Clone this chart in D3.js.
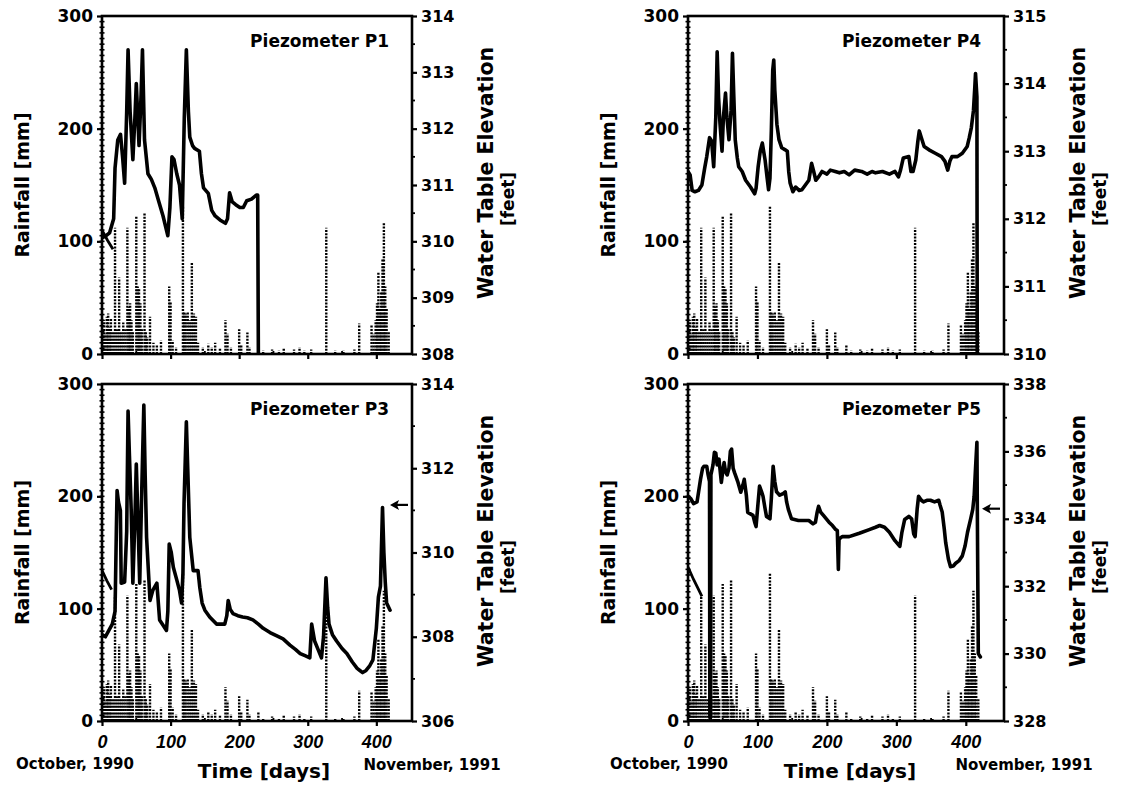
<!DOCTYPE html>
<html><head><meta charset="utf-8">
<script src="https://cdn.jsdelivr.net/npm/d3@7"></script>
<style>body{margin:0;background:#fff}svg{display:block}</style>
</head><body>
<svg id="c" width="1126" height="792"></svg>
<script>
// ---------------- DATA ----------------
const panelNames = ["Piezometer P1", "Piezometer P3", "Piezometer P4", "Piezometer P5"];
const xTicks = [0, 100, 200, 300, 400];
const rainTicks = [0, 100, 200, 300];
const startLabel = "October, 1990";
const endLabel = "November, 1991";
const xTitle = "Time [days]";
const yLeftTitle = "Rainfall [mm]";
const yRightTitle = "Water Table Elevation";
const yRightUnit = "[feet]";

// daily rainfall [day, mm] (same gauge for all piezometers)
const rainfall = [
 [1,20],[3,30],[5,18],[7,33],[9,36],[11,24],[13,32],[16,20],
 [19,112],[22,22],[25,68],[28,20],[31,28],[34,22],
 [37,112],[39,42],[41,45],[43,30],[45,20],
 [50,122],[52,60],[54,58],[56,45],[58,22],
 [62,125],[64,20],[66,15],[70,33],[75,10],[80,8],[86,12],
 [98,60],[100,46],[103,12],[108,6],
 [118,131],[120,38],[122,36],[125,38],[128,30],[131,81],[134,36],[137,33],[140,10],
 [147,6],[155,9],[160,6],[165,10],[172,5],
 [180,30],[183,18],[188,6],[200,22],[203,8],[212,19],[215,6],[228,8],[235,3],
 [248,4],[258,3],[265,5],[280,4],[288,6],[295,3],[305,4],
 [327,112],[340,3],[352,3],[368,4],[375,27],
 [393,26],[396,18],[399,30],[401,45],[403,73],[405,40],[407,55],[409,85],[411,116],[413,60],[415,40],[418,20]
];

// water table elevation [day, feet]
const wtP1 = [
 [0,310.06],[6,310.1],[11,310.15],[17,310.4],[19,311.3],[23,311.8],[27,311.9],[30,311.5],[33,311.03],
 [36,312.3],[38,313.4],[41,312.3],[45,311.45],[48,312.2],[50,312.8],[54,311.7],[57,312.6],[59,313.4],
 [62,311.8],[67,311.2],[72,311.1],[77,310.95],[83,310.7],[89,310.45],[96,310.1],[99,310.6],[102,311.5],
 [105,311.45],[109,311.2],[113,311.0],[117,310.4],[120,312.2],[123,313.4],[126,312.3],[128,311.85],
 [132,311.7],[135,311.65],[142,311.6],[145,311.2],[148,310.95],[155,310.85],[160,310.55],[165,310.45],
 [172,310.38],[180,310.32],[183,310.4],[186,310.86],[190,310.7],[195,310.65],[201,310.6],[206,310.6],
 [211,310.72],[218,310.75],[225,310.82],[227,310.82],[228,308.0]
];
const wtP3 = [
 [0,308.05],[5,308.0],[10,308.15],[15,308.3],[19,308.6],[21,310.6],[22,311.47],[24,311.2],[26.8,311.0],
 [28,309.27],[33,309.3],[36,310.5],[38,313.36],[40,312.3],[42.6,311.0],[45,309.27],[48,310.8],[50,312.1],
 [52,311.0],[55,309.27],[58,311.5],[61,313.5],[63,311.8],[65,310.36],[70,308.86],[74,309.1],[80,309.27],
 [84,308.4],[90,308.25],[94,308.15],[96,308.6],[98,310.2],[101,310.0],[104,309.65],[109,309.35],[113,309.1],
 [116,308.8],[118,309.5],[119.6,311.16],[123,313.1],[125,312.0],[128,310.36],[133,309.57],[140,309.57],
 [142.6,309.17],[146,308.8],[150,308.63],[157,308.47],[167,308.3],[179,308.3],[182,308.5],[184,308.86],
 [187,308.65],[191,308.55],[198,308.5],[205,308.47],[212,308.45],[220,308.4],[228,308.3],[235,308.2],
 [245,308.1],[255,308.02],[264,307.95],[274,307.8],[282,307.7],[289,307.6],[296,307.55],[303,307.5],
 [305.7,308.3],[310,307.9],[315,307.7],[320,307.5],[323,308.0],[326.6,309.4],[329,308.7],[331,308.3],
 [336,308.05],[342,307.9],[350,307.72],[357,307.6],[365,307.4],[372,307.25],[376,307.2],[380,307.15],
 [385,307.2],[390,307.3],[395,307.45],[400,308.2],[403,308.94],[406,309.2],[409,311.07],[411,310.0],
 [413,309.3],[415,308.8],[420,308.63]
];
const wtP4 = [
 [0,312.7],[3,312.65],[6,312.42],[10,312.4],[15,312.42],[20,312.5],[24,312.75],[27,312.92],[31,313.2],
 [34,313.15],[37,312.77],[40,313.5],[42,314.47],[44,313.8],[46,313.42],[49,313.0],[51,313.5],[54,313.86],
 [56,313.5],[59,313.17],[62,313.6],[64,314.45],[66,313.8],[68,313.17],[71,312.9],[73,312.77],[78,312.7],
 [83,312.57],[90,312.47],[96,312.37],[98,312.45],[101,312.77],[104,313.0],[107,313.12],[111,312.87],
 [114,312.6],[116,312.43],[118,312.6],[120,313.3],[122,314.2],[123.5,314.35],[125,313.9],[128,313.4],
 [131,313.17],[135,313.05],[140,313.02],[143,313.0],[145,312.7],[147,312.53],[151,312.4],[155,312.47],
 [160,312.42],[164,312.43],[169,312.5],[174,312.57],[178,312.82],[181,312.7],[184,312.57],[188,312.62],
 [193,312.7],[200,312.66],[205,312.72],[212,312.7],[218,312.68],[225,312.7],[232,312.65],[240,312.72],
 [250,312.7],[258,312.66],[265,312.7],[270,312.68],[280,312.7],[290,312.66],[298,312.7],[303,312.62],
 [306,312.72],[310,312.9],[318,312.92],[321,312.7],[324,312.7],[328,312.87],[331,313.15],[333,313.3],
 [336,313.2],[340,313.07],[347,313.02],[356,312.97],[365,312.92],[370,312.85],[374,312.72],[377,312.85],
 [380,312.92],[388,312.92],[395,312.97],[402,313.07],[405,313.2],[408,313.35],[411,313.6],[413,313.95],
 [414,314.15],[416,313.8],[416.5,310.0]
];
const wtP5 = [
 [0,334.67],[4,334.6],[8,334.45],[13,334.5],[16,334.9],[18,335.17],[21,335.5],[23,335.56],[27,335.56],
 [29,335.3],[31,335.1],[31.5,328.1],[32.5,328.1],[33,335.3],[36,335.6],[38,335.97],[40,335.95],[42,335.6],
 [44.6,335.77],[48,335.08],[50,335.4],[52,335.67],[54,335.4],[56.4,335.3],[59,335.5],[61,336.0],
 [62.8,336.07],[65,335.5],[67,335.37],[72,335.08],[76,334.79],[79,335.0],[81,335.17],[84,334.7],
 [86,334.19],[93.6,334.1],[96,333.9],[98,333.77],[101,334.5],[103,334.97],[106,334.8],[108,334.67],
 [111,334.3],[113,334.07],[118,334.0],[120,334.6],[122.6,335.56],[125,335.1],[127.5,334.8],[132,334.7],
 [137,334.75],[140,334.8],[142,334.5],[144.5,334.28],[149,334.0],[159,333.95],[174,333.95],[180,333.85],
 [183.5,333.9],[186,334.2],[188,334.37],[191,334.2],[195,334.1],[203,333.9],[208,333.8],[212.7,333.68],
 [215,333.65],[216.5,332.5],[217.5,333.4],[222,333.47],[232,333.47],[246.7,333.57],[261,333.68],
 [270,333.75],[276,333.8],[283,333.75],[290,333.6],[298,333.35],[305,333.18],[308,333.6],[312,333.98],
 [318,334.07],[322,334.0],[325,333.55],[327,333.47],[330,334.3],[332,334.67],[336,334.55],[339,334.5],
 [344,334.55],[349,334.55],[355,334.5],[361,334.55],[363,334.4],[366,334.2],[369,333.7],[371,333.3],
 [375,332.8],[378,332.58],[382,332.6],[385.4,332.68],[390,332.75],[395,332.9],[399,333.2],[402.5,333.6],
 [407,334.0],[410,334.28],[412,334.67],[414,335.5],[416,336.27],[417,333.0],[418,330.0],[421,329.9]
];

// short initial trace at the start of record [day, mm]
const earlyP1 = [[0,110],[8,101],[16,93]];
const earlyP3 = [[0,134],[7,125],[14,117]];
const earlyP4 = [];
const earlyP5 = [[0,137],[8,126],[16,116],[20,111]];

// right-axis ranges and ticks (feet)
const elevDomains = [[308,314],[306,314],[310,315],[328,338]];
const elevTicks = [
 [308,309,310,311,312,313,314],
 [306,308,310,312,314],
 [310,311,312,313,314,315],
 [328,330,332,334,336,338]
];
const elevMinor = [
 [308.5,309.5,310.5,311.5,312.5,313.5],
 [307,309,311,313],
 [310.5,311.5,312.5,313.5,314.5],
 [329,331,333,335,337]
];
// arrow markers (elevation, feet) in P3 and P5
const arrowElev = [null, 311.13, null, 334.3];

// ---------------- LAYOUT ----------------
const cols = [{x0:102, x1:412, dMax:452, oct:75}, {x0:688, x1:1004, dMax:455, oct:669}];
const rows = [{y0:16, y1:354}, {y0:384, y1:721}];
const panelPos = [[0,0],[0,1],[1,0],[1,1]]; // [col,row]
const wtSeries = [wtP1, wtP3, wtP4, wtP5];
const earlySeries = [earlyP1, earlyP3, earlyP4, earlyP5];

const FONT = "'DejaVu Sans', sans-serif";
const svg = d3.select("#c");

panelNames.forEach((name, i) => {
  const c = cols[panelPos[i][0]], r = rows[panelPos[i][1]];
  const bottomRow = panelPos[i][1] === 1;
  const x = d3.scaleLinear([0, c.dMax], [c.x0, c.x1]);
  const yL = d3.scaleLinear([0, 300], [r.y1, r.y0]);
  const yR = d3.scaleLinear(elevDomains[i], [r.y1, r.y0]);
  const g = svg.append("g");

  const clipId = "clip" + i;
  svg.append("clipPath").attr("id", clipId).append("rect")
    .attr("x", c.x0).attr("y", r.y0 - 2).attr("width", c.x1 - c.x0).attr("height", r.y1 - r.y0 + 3);
  const plot = g.append("g").attr("clip-path", `url(#${clipId})`);

  // rainfall impulses (dotted)
  plot.selectAll("line.rain").data(rainfall).join("line")
    .attr("x1", d => x(d[0])).attr("x2", d => x(d[0]))
    .attr("y1", yL(0)).attr("y2", d => yL(d[1]))
    .attr("stroke", "#000").attr("stroke-width", 2.4)
    .attr("stroke-dasharray", "2,1.3");

  // early trace
  if (earlySeries[i].length) {
    plot.append("path").datum(earlySeries[i])
      .attr("d", d3.line().x(d => x(d[0])).y(d => yL(d[1])))
      .attr("fill", "none").attr("stroke", "#000").attr("stroke-width", 2.8);
  }

  // water table line
  plot.append("path").datum(wtSeries[i])
    .attr("d", d3.line().x(d => x(d[0])).y(d => yR(d[1])))
    .attr("fill", "none").attr("stroke", "#000").attr("stroke-width", 3.6)
    .attr("stroke-linejoin", "round").attr("stroke-linecap", "round");

  // frame
  g.append("rect").attr("x", c.x0).attr("y", r.y0)
    .attr("width", c.x1 - c.x0).attr("height", r.y1 - r.y0)
    .attr("fill", "none").attr("stroke", "#000").attr("stroke-width", 2.6);

  // left axis
  const la = g.append("g").attr("transform", `translate(${c.x0},0)`)
    .call(d3.axisLeft(yL).tickValues(rainTicks).tickSize(5).tickPadding(4).tickFormat(d3.format("d")));
  la.select(".domain").remove();
  la.selectAll(".tick line").attr("stroke-width", 2.2);
  la.selectAll(".tick text").attr("font-family", FONT).attr("font-weight", "bold")
    .attr("font-size", 17).attr("fill", "#000");
  // minor left ticks
  g.selectAll("line.lmin").data(d3.range(5, 300, 5)).join("line")
    .attr("x1", c.x0 - 2.5).attr("x2", c.x0 + 2.5)
    .attr("y1", d => yL(d)).attr("y2", d => yL(d))
    .attr("stroke", "#000").attr("stroke-width", 1.6);

  // right axis
  const ra = g.append("g").attr("transform", `translate(${c.x1},0)`)
    .call(d3.axisRight(yR).tickValues(elevTicks[i]).tickSize(5).tickPadding(4).tickFormat(d3.format("d")));
  ra.select(".domain").remove();
  ra.selectAll(".tick line").attr("stroke-width", 2.2);
  ra.selectAll(".tick text").attr("font-family", FONT).attr("font-weight", "bold")
    .attr("font-size", 16).attr("fill", "#000");
  g.selectAll("line.rmin").data(elevMinor[i]).join("line")
    .attr("x1", c.x1).attr("x2", c.x1 + 3)
    .attr("y1", d => yR(d)).attr("y2", d => yR(d))
    .attr("stroke", "#000").attr("stroke-width", 1.8);

  // bottom axis
  const ba = g.append("g").attr("transform", `translate(0,${r.y1})`)
    .call(d3.axisBottom(x).tickValues(xTicks).tickSize(5).tickPadding(9)
      .tickFormat(bottomRow ? d3.format("d") : () => ""));
  ba.select(".domain").remove();
  ba.selectAll(".tick line").attr("stroke-width", 2.2);
  ba.selectAll(".tick text").attr("font-family", "'Liberation Sans', Arial, sans-serif")
    .attr("font-weight", "bold").attr("font-style", "italic").attr("font-size", 18).attr("fill", "#000");
  g.selectAll("line.bmin").data([50,150,250,350]).join("line")
    .attr("x1", d => x(d)).attr("x2", d => x(d))
    .attr("y1", r.y1).attr("y2", r.y1 - 3)
    .attr("stroke", "#000").attr("stroke-width", 1.8);

  // title
  g.append("text").attr("x", c.x1 - 23).attr("y", r.y0 + 31).attr("text-anchor", "end")
    .attr("font-family", FONT).attr("font-weight", "bold").attr("font-size", 17).text(name);

  // left y title
  g.append("text").attr("transform", `translate(${c.x0 - 73},${(r.y0 + r.y1) / 2}) rotate(-90)`)
    .attr("text-anchor", "middle").attr("font-family", FONT).attr("font-weight", "bold")
    .attr("font-size", 19).text(yLeftTitle);

  // right y title
  g.append("text").attr("transform", `translate(${c.x1 + 81},${r.y0 + 157}) rotate(-90)`)
    .attr("text-anchor", "middle").attr("font-family", FONT).attr("font-weight", "bold")
    .attr("font-size", 20.5).text(yRightTitle);
  g.append("text").attr("transform", `translate(${c.x1 + 102},${r.y0 + 183}) rotate(-90)`)
    .attr("text-anchor", "middle").attr("font-family", FONT).attr("font-weight", "bold")
    .attr("font-size", 17).text(yRightUnit);

  // arrow
  if (arrowElev[i] != null) {
    const ay = yR(arrowElev[i]), ax = c.x1 - 20;
    g.append("line").attr("x1", ax + 4).attr("x2", c.x1 - 4).attr("y1", ay).attr("y2", ay)
      .attr("stroke", "#000").attr("stroke-width", 2.2);
    g.append("path").attr("d", `M${ax - 2},${ay} L${ax + 7},${ay - 5} L${ax + 5},${ay} L${ax + 7},${ay + 5} Z`)
      .attr("fill", "#000");
  }

  // bottom labels
  if (bottomRow) {
    g.append("text").attr("x", c.oct).attr("y", 769).attr("text-anchor", "middle")
      .attr("font-family", FONT).attr("font-weight", "bold").attr("font-size", 15).text(startLabel);
    g.append("text").attr("x", c.x1 + 20).attr("y", 770).attr("text-anchor", "middle")
      .attr("font-family", FONT).attr("font-weight", "bold").attr("font-size", 15).text(endLabel);
    g.append("text").attr("x", c.x0 + 162).attr("y", 778).attr("text-anchor", "middle")
      .attr("font-family", FONT).attr("font-weight", "bold").attr("font-size", 20).text(xTitle);
  }
});
</script>
</body></html>
